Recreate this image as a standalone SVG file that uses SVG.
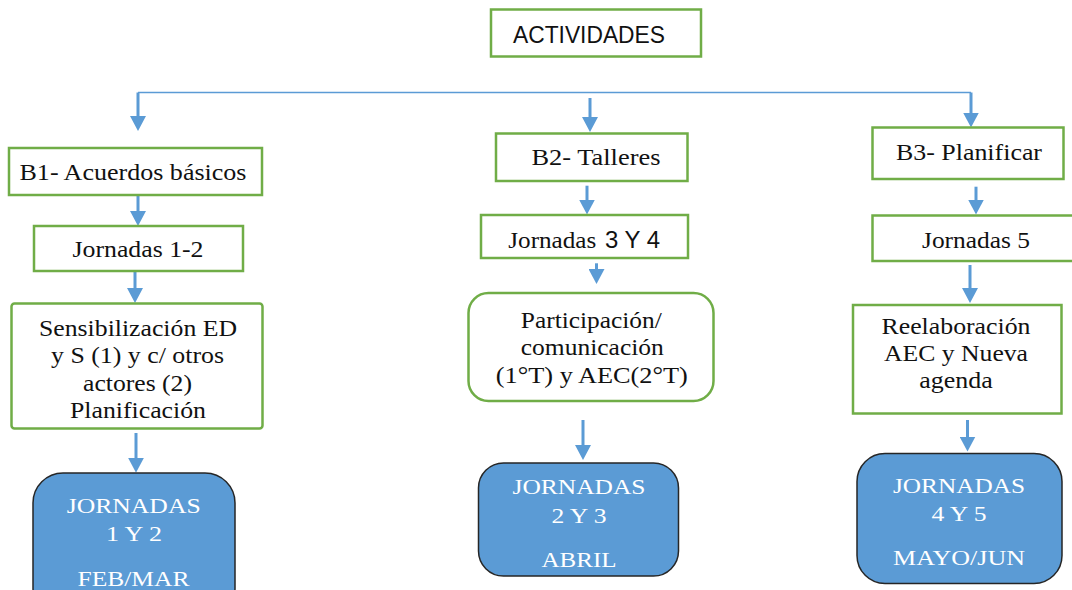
<svg xmlns="http://www.w3.org/2000/svg" width="1072" height="590" viewBox="0 0 1072 590">
<defs>
<style>
.box{fill:#ffffff;stroke:#70ad47;stroke-width:2.5}
.jb{fill:#5b9bd5;stroke:#262626;stroke-width:1.5}
.t{font-family:"Liberation Serif","Times New Roman",serif;font-size:23px;fill:#111111;text-anchor:middle}
.st{font-family:"Liberation Serif","Times New Roman",serif;font-size:23px;fill:#111111;text-anchor:start}
.w{font-family:"Liberation Serif","Times New Roman",serif;font-size:22px;fill:#ffffff;text-anchor:middle}
.s{font-family:"Liberation Sans",Arial,sans-serif;font-size:23px;fill:#111111}
.a{fill:none;stroke:#5b9bd5;stroke-width:3;marker-end:url(#ah)}
.ln{fill:none;stroke:#5b9bd5;stroke-width:1.5}
</style>
<marker id="ah" viewBox="0 0 15 16" refX="5" refY="8" markerWidth="15" markerHeight="16" markerUnits="userSpaceOnUse" orient="auto">
<path d="M0,0 L15,8 L0,16 Z" fill="#5b9bd5"/>
</marker>
</defs>
<rect width="1072" height="590" fill="#ffffff"/>

<g id="connectors">
<path class="ln" d="M138,92.5 H971"/>
<path class="a" d="M138,92.5 V121"/>
<path class="a" d="M590,98 V122"/>
<path class="a" d="M971,92.5 V117.5"/>
<path class="a" d="M138,195 V216"/>
<path class="a" d="M135,271 V293"/>
<path class="a" d="M136,433 V462.7"/>
<path class="a" d="M587,185.7 V204.5"/>
<path class="a" d="M596.5,263.3 V274"/>
<path class="a" d="M583,420 V450"/>
<path class="a" d="M976,186.7 V204.5"/>
<path class="a" d="M970,265 V293"/>
<path class="a" d="M967.5,420 V441.5"/>
</g>

<g id="actividades">
<rect class="box" x="491" y="9.5" width="210" height="47"/>
<text class="s" x="589" y="43" text-anchor="middle" textLength="152" lengthAdjust="spacingAndGlyphs">ACTIVIDADES</text>
</g>

<g id="b1">
<rect class="box" x="9" y="148" width="253" height="47"/>
<text class="t" x="133" y="180" textLength="227" lengthAdjust="spacingAndGlyphs">B1- Acuerdos básicos</text>
</g>
<g id="jornadas12">
<rect class="box" x="34" y="226" width="209" height="45"/>
<text class="t" x="138" y="257" textLength="131" lengthAdjust="spacingAndGlyphs">Jornadas 1-2</text>
</g>
<g id="sensibilizacion">
<rect class="box" x="11.5" y="303.5" width="251" height="125" rx="3"/>
<text class="t" x="138" y="336" textLength="198" lengthAdjust="spacingAndGlyphs">Sensibilización ED</text>
<text class="t" x="137.5" y="363" textLength="173" lengthAdjust="spacingAndGlyphs">y S (1) y c/ otros</text>
<text class="t" x="137.5" y="391" textLength="109" lengthAdjust="spacingAndGlyphs">actores (2)</text>
<text class="t" x="138" y="418" textLength="136" lengthAdjust="spacingAndGlyphs">Planificación</text>
</g>
<g id="jb12">
<rect class="jb" x="33" y="473" width="202" height="145" rx="30"/>
<text class="w" x="133.7" y="513" textLength="134" lengthAdjust="spacingAndGlyphs">JORNADAS</text>
<text class="w" x="134" y="541" textLength="56" lengthAdjust="spacingAndGlyphs">1 Y 2</text>
<text class="w" x="133.5" y="586" textLength="112" lengthAdjust="spacingAndGlyphs">FEB/MAR</text>
</g>

<g id="b2">
<rect class="box" x="496" y="133.5" width="191.5" height="47.5"/>
<text class="t" x="596" y="165" textLength="129" lengthAdjust="spacingAndGlyphs">B2- Talleres</text>
</g>
<g id="jornadas34">
<rect class="box" x="481" y="215" width="207" height="43"/>
<text class="st" x="508.3" y="247.7" textLength="88" lengthAdjust="spacingAndGlyphs">Jornadas</text>
<text class="s" x="605" y="247.7" textLength="55" lengthAdjust="spacingAndGlyphs">3 Y 4</text>
</g>
<g id="participacion">
<rect class="box" x="468.5" y="293" width="245" height="108" rx="20"/>
<text class="t" x="591.3" y="328.3" textLength="141" lengthAdjust="spacingAndGlyphs">Participación/</text>
<text class="t" x="592.3" y="355" textLength="143" lengthAdjust="spacingAndGlyphs">comunicación</text>
<text class="t" x="591.8" y="383.3" textLength="192" lengthAdjust="spacingAndGlyphs">(1°T) y AEC(2°T)</text>
</g>
<g id="jb23">
<rect class="jb" x="478.5" y="463" width="200" height="113" rx="25"/>
<text class="w" x="579" y="494.3" textLength="133" lengthAdjust="spacingAndGlyphs">JORNADAS</text>
<text class="w" x="579" y="523.3" textLength="55" lengthAdjust="spacingAndGlyphs">2 Y 3</text>
<text class="w" x="579" y="567.3" textLength="75" lengthAdjust="spacingAndGlyphs">ABRIL</text>
</g>

<g id="b3">
<rect class="box" x="872.5" y="127.5" width="191" height="51.5"/>
<text class="t" x="969" y="160" textLength="146" lengthAdjust="spacingAndGlyphs">B3- Planificar</text>
</g>
<g id="jornadas5">
<rect class="box" x="872.5" y="215.5" width="210" height="45.5"/>
<text class="t" x="976" y="247.7" textLength="108" lengthAdjust="spacingAndGlyphs">Jornadas 5</text>
</g>
<g id="reelaboracion">
<rect class="box" x="853" y="305" width="208.5" height="108.5"/>
<text class="t" x="956" y="334.3" textLength="149" lengthAdjust="spacingAndGlyphs">Reelaboración</text>
<text class="t" x="956" y="361" textLength="144" lengthAdjust="spacingAndGlyphs">AEC y Nueva</text>
<text class="t" x="956" y="387.7" textLength="73.5" lengthAdjust="spacingAndGlyphs">agenda</text>
</g>
<g id="jb45">
<rect class="jb" x="857" y="453.5" width="205" height="130" rx="28"/>
<text class="w" x="959" y="492.7" textLength="132" lengthAdjust="spacingAndGlyphs">JORNADAS</text>
<text class="w" x="959" y="520.7" textLength="55" lengthAdjust="spacingAndGlyphs">4 Y 5</text>
<text class="w" x="959" y="565" textLength="132" lengthAdjust="spacingAndGlyphs">MAYO/JUN</text>
</g>
</svg>
